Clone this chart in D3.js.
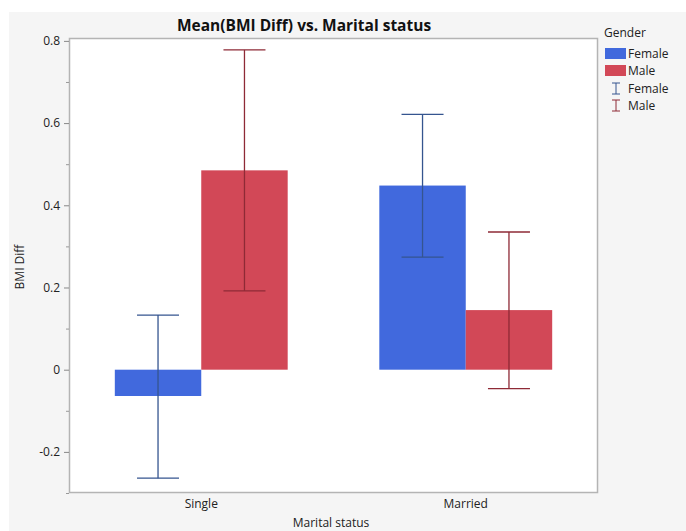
<!DOCTYPE html>
<html>
<head>
<meta charset="utf-8">
<script src="https://cdn.jsdelivr.net/npm/d3@7"></script>
<style>
  html, body { margin: 0; padding: 0; background: #ffffff; }
  svg { display: block; font-family: "Open Sans", "Segoe UI", sans-serif; }
</style>
</head>
<body>
<svg id="chart" width="686" height="531"></svg>
<script>
// Mean BMI difference by marital status and gender, with error intervals
const categories = ["Single", "Married"];
const genders = ["Female", "Male"];
const means = {
  Female: [-0.064, 0.448],
  Male:   [0.485, 0.145]
};
const lower = {
  Female: [-0.264, 0.274],
  Male:   [0.192, -0.046]
};
const upper = {
  Female: [0.133, 0.621],
  Male:   [0.778, 0.335]
};
const yTicks = [-0.2, 0, 0.2, 0.4, 0.6, 0.8];
const yMinorTicks = [-0.3, -0.1, 0.1, 0.3, 0.5, 0.7];

const barColor = { Female: "#4169dd", Male: "#d24857" };
const errColor = { Female: "#35558f", Male: "#8e2a36" };

const svg = d3.select("#chart");
const W = 686, H = 531;
const plot = { left: 69, top: 38, right: 598, bottom: 493 };

// panel background
svg.append("rect").attr("x", 9).attr("y", 12).attr("width", W - 9).attr("height", H - 12)
  .attr("fill", "#f5f5f5");
svg.append("rect").attr("x", plot.left).attr("y", plot.top)
  .attr("width", plot.right - plot.left).attr("height", plot.bottom - plot.top)
  .attr("fill", "#ffffff");

const x0 = d3.scaleBand().domain(categories).range([plot.left, plot.right]).padding(0);
const x1 = d3.scaleBand().domain(genders).range([0, x0.bandwidth()])
  .paddingInner(0).paddingOuter(0.53);
const y = d3.scaleLinear().domain([-0.3, 0.807]).range([plot.bottom, plot.top]);

const rows = [];
categories.forEach((c, i) => genders.forEach(g => rows.push({
  cat: c, g, v: means[g][i], lo: lower[g][i], hi: upper[g][i]
})));

// bars
svg.append("g").selectAll("rect").data(rows).join("rect")
  .attr("x", d => x0(d.cat) + x1(d.g))
  .attr("width", x1.bandwidth())
  .attr("y", d => y(Math.max(0, d.v)))
  .attr("height", d => Math.abs(y(d.v) - y(0)))
  .attr("fill", d => barColor[d.g]);

// error bars
const capW = 42;
const eb = svg.append("g").selectAll("g").data(rows).join("g")
  .attr("stroke", d => errColor[d.g]).attr("stroke-width", 1.3);
eb.append("line")
  .attr("x1", d => x0(d.cat) + x1(d.g) + x1.bandwidth() / 2)
  .attr("x2", d => x0(d.cat) + x1(d.g) + x1.bandwidth() / 2)
  .attr("y1", d => y(d.lo)).attr("y2", d => y(d.hi));
["lo", "hi"].forEach(k => {
  eb.append("line")
    .attr("x1", d => x0(d.cat) + x1(d.g) + x1.bandwidth() / 2 - capW / 2)
    .attr("x2", d => x0(d.cat) + x1(d.g) + x1.bandwidth() / 2 + capW / 2)
    .attr("y1", d => y(d[k])).attr("y2", d => y(d[k]));
});

// plot frame
svg.append("rect").attr("x", plot.left + 0.5).attr("y", plot.top + 0.5)
  .attr("width", plot.right - plot.left - 1).attr("height", plot.bottom - plot.top - 1)
  .attr("fill", "none").attr("stroke", "#b4b4b4").attr("stroke-width", 1.5);

// y axis
const yAxis = svg.append("g").attr("transform", `translate(${plot.left},0)`)
  .call(d3.axisLeft(y).tickValues(yTicks).tickSize(5).tickPadding(4)
    .tickFormat(d => d === 0 ? "0" : d3.format(".1f")(d).replace("\u2212", "-")));
yAxis.select(".domain").remove();
yAxis.selectAll(".tick line").attr("stroke", "#888");
yAxis.selectAll("text").attr("font-size", 12).attr("fill", "#222")
  .attr("font-family", "'Open Sans', sans-serif");
svg.append("g").attr("transform", `translate(${plot.left},0)`)
  .call(d3.axisLeft(y).tickValues(yMinorTicks).tickSize(3).tickFormat(""))
  .call(g => g.select(".domain").remove())
  .selectAll(".tick line").attr("stroke", "#999");

// x axis labels
const xAxis = svg.append("g").attr("transform", `translate(0,${plot.bottom})`)
  .call(d3.axisBottom(x0).tickSize(0).tickPadding(6));
xAxis.select(".domain").remove();
xAxis.selectAll("text").attr("font-size", 12).attr("fill", "#222")
  .attr("font-family", "'Open Sans', sans-serif");

// titles
svg.append("text").attr("x", 304).attr("y", 31).attr("text-anchor", "middle")
  .attr("font-size", 15.5).attr("font-weight", "bold").attr("fill", "#111")
  .text("Mean(BMI Diff) vs. Marital status");
svg.append("text").attr("x", 331).attr("y", 527).attr("text-anchor", "middle")
  .attr("font-size", 12).attr("fill", "#222").text("Marital status");
svg.append("text").attr("transform", "translate(24,267) rotate(-90)")
  .attr("text-anchor", "middle").attr("font-size", 12).attr("fill", "#222").text("BMI Diff");

// legend
const lg = svg.append("g").attr("font-size", 12).attr("fill", "#222");
lg.append("text").attr("x", 604).attr("y", 37).text("Gender");
genders.forEach((g, i) => {
  const yy = 48 + i * 17;
  lg.append("rect").attr("x", 605).attr("y", yy).attr("width", 21).attr("height", 11)
    .attr("fill", barColor[g]);
  lg.append("text").attr("x", 628).attr("y", yy + 10).text(g);
});
genders.forEach((g, i) => {
  const yy = 83 + i * 17;
  const e = lg.append("g").attr("stroke", errColor[g]).attr("stroke-width", 1);
  e.append("line").attr("x1", 616).attr("x2", 616).attr("y1", yy).attr("y2", yy + 11);
  e.append("line").attr("x1", 612).attr("x2", 620).attr("y1", yy).attr("y2", yy);
  e.append("line").attr("x1", 612).attr("x2", 620).attr("y1", yy + 11).attr("y2", yy + 11);
  lg.append("text").attr("x", 628).attr("y", yy + 10).text(g);
});
</script>
</body>
</html>
